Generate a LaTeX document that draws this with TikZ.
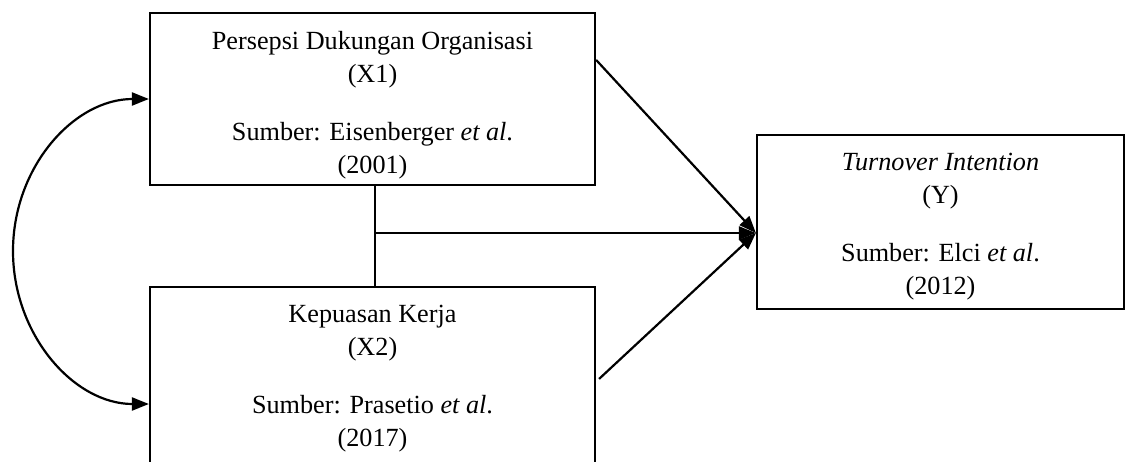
\documentclass[tikz,border=0pt]{standalone}
\usepackage{fontspec}
\setmainfont{Liberation Serif}
\usetikzlibrary{arrows.meta,calc}
\begin{document}
\begin{tikzpicture}[x=0.5pt,y=-0.5pt,
  box/.style={draw, line width=1.1pt, inner sep=0pt, rectangle},
  txt/.style={align=center, inner sep=0pt, font=\fontsize{13.1}{16.4}\selectfont, anchor=north},
  tip/.tip={Triangle[length=8.5pt,width=6.5pt]},
  arr/.style={line width=1.1pt, -tip},
  link/.style={line width=1.1pt}]
\useasboundingbox (0,0) rectangle (1125,461);
\clip (0,0) rectangle (1125,461);
\node[box, minimum width=222.5pt, minimum height=86pt] (x1) at (372.5,99) {};
\node[box, minimum width=222.5pt, minimum height=117pt] (x2) at (372.5,404) {};
\node[box, minimum width=183.5pt, minimum height=87pt] (y) at (940.5,222) {};
\node[txt] (x1t) at ([yshift=-9.5pt]x1.north) {Persepsi Dukungan Organisasi\\(X1)\\[12.6pt]Sumber: Eisenberger \textit{et al}.\\(2001)};
\node[txt] (x2t) at ([yshift=-9.5pt]x2.north) {Kepuasan Kerja\\(X2)\\[12.6pt]Sumber: Prasetio \textit{et al}.\\(2017)};
\node[txt] (yt) at ([yshift=-9.5pt]y.north) {\textit{Turnover Intention}\\(Y)\\[12.6pt]Sumber: Elci \textit{et al}.\\(2012)};
\coordinate (top) at ([xshift=1.25pt]x1.south);
\coordinate (bot) at ([xshift=1.25pt]x2.north);
\coordinate (j) at ($(top)!0.47!(bot)$);
\coordinate (yin) at (j -| y.west);
\coordinate (lm) at (13,251);
\draw[link] (top) -- (bot);
\draw[arr] (j) -- (yin);
\draw[arr] ([yshift=-24pt]x1.north east) -- (yin);
\draw[arr] ([xshift=1.5pt,yshift=-46.5pt]x2.north east) -- (yin);
\draw[link, tip-tip] (x1.west) .. controls (74,99) and (13,167) .. (lm)
  .. controls (13,335) and (74,404) .. (x2.west);
\end{tikzpicture}
\end{document}
